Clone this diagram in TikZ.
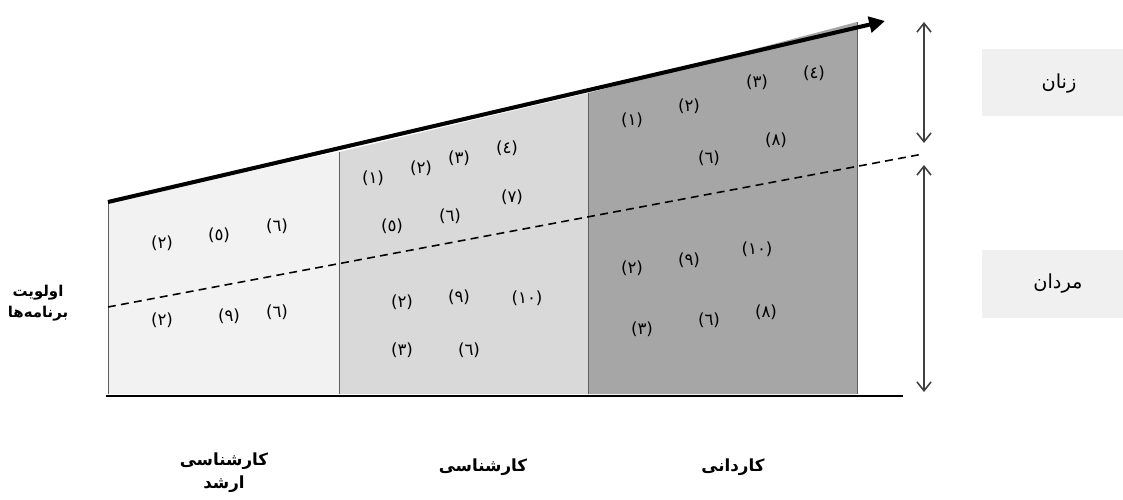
\documentclass[tikz,border=0pt]{standalone}
\usepackage{fontspec}
\setmainfont{DejaVu Sans}
\newfontfamily\arabicfont[Script=Arabic]{DejaVu Sans}
\newfontfamily\numfont{DejaVu Sans}
\TeXXeTstate=1
\usetikzlibrary{arrows.meta}
\definecolor{pA}{HTML}{F2F2F2}
\definecolor{pB}{HTML}{D9D9D9}
\definecolor{pC}{HTML}{A6A6A6}
\definecolor{boxc}{HTML}{F0F0F0}
\definecolor{edgec}{HTML}{606060}
\definecolor{vline}{HTML}{404040}
\tikzset{
  num/.style={font=\numfont\fontsize{9.5}{11}\selectfont, inner sep=0pt, text=black},
  lbl/.style={font=\arabicfont\bfseries\fontsize{9.5}{13}\selectfont, align=center, inner sep=0pt},
  sidelbl/.style={font=\arabicfont\fontsize{11}{13}\selectfont, inner sep=0pt},
  panel/.style={draw=edgec, line width=0.5pt},
  sidebox/.style={fill=boxc, draw=none},
  dimarrow/.style={draw=vline, line width=0.9pt, {Straight Barb[length=5pt,width=8pt]}-{Straight Barb[length=5pt,width=8pt]}},
}
\begin{document}
\begin{tikzpicture}[x=0.02cm,y=-0.02cm]
\useasboundingbox (0,0) rectangle (1123,500);
% panels
\fill[pA] (108,202) -- (339,152) -- (339,394) -- (108,394) -- cycle;
\fill[pB] (339,152) -- (588,93) -- (588,394) -- (339,394) -- cycle;
\fill[pC] (588,93) -- (857,22) -- (857,394) -- (588,394) -- cycle;
\draw[panel] (108,202) -- (108,394);
\draw[panel] (339,152) -- (339,394);
\draw[panel] (588,93) -- (588,394);
\draw[panel] (857,22) -- (857,394);
% dashed boundary
\coordinate (dL) at (108,307);
\coordinate (dR) at (923,154);
\draw[dash pattern=on 4.5pt off 3pt, line width=0.9pt] (dL) -- (dR);
% baseline
\coordinate (bL) at (106,396);
\coordinate (bR) at (903,396);
\draw[line width=1.7pt] (bL) -- (bR);
% top arrow
\coordinate (aS) at (108,202);
\coordinate (aE) at (885,21);
\draw[line width=2.3pt, -{Triangle[length=9pt,width=9pt]}] (aS) -- (aE);
% dimension arrows
\coordinate (t1) at (924,22);
\coordinate (t2) at (924,143);
\coordinate (m1) at (924,165);
\coordinate (m2) at (924,392);
\draw[dimarrow] (t1) -- (t2);
\draw[dimarrow] (m1) -- (m2);
% side boxes
\fill[sidebox] (982,49) rectangle (1123,116);
\fill[sidebox] (982,250) rectangle (1123,318);
\node[sidelbl] (women) at (1059,84) {\beginR زنان\endR};
\node[sidelbl] (men) at (1058,284) {\beginR مردان\endR};
% left label
\node[lbl, font=\arabicfont\bfseries\fontsize{8.5}{12}\selectfont] (prio) at (38,303) {\beginR اولویت\endR\\\beginR برنامه‌ها\endR};
% bottom labels
\node[lbl] (msc) at (224,473) {\beginR کارشناسی\endR\\\beginR ارشد\endR};
\node[lbl] (bsc) at (483,467) {\beginR کارشناسی\endR};
\node[lbl] (asc) at (733,467) {\beginR کاردانی\endR};
% panel 1 numbers
\node[num] (p1a) at (162,243) {(٢)};
\node[num] (p1b) at (219,235) {(٥)};
\node[num] (p1c) at (277,226) {(٦)};
\node[num] (p1d) at (162,320) {(٢)};
\node[num] (p1e) at (229,316) {(٩)};
\node[num] (p1f) at (277,312) {(٦)};
% panel 2 numbers
\node[num] (p2a) at (373,178) {(١)};
\node[num] (p2b) at (421,168) {(٢)};
\node[num] (p2c) at (459,158) {(٣)};
\node[num] (p2d) at (507,148) {(٤)};
\node[num] (p2e) at (512,197) {(٧)};
\node[num] (p2f) at (450,216) {(٦)};
\node[num] (p2g) at (392,226) {(٥)};
\node[num] (p2h) at (402,302) {(٢)};
\node[num] (p2i) at (459,297) {(٩)};
\node[num] (p2j) at (527,298) {(١٠)};
\node[num] (p2k) at (402,350) {(٣)};
\node[num] (p2l) at (469,350) {(٦)};
% panel 3 numbers
\node[num] (p3a) at (632,120) {(١)};
\node[num] (p3b) at (689,106) {(٢)};
\node[num] (p3c) at (757,82) {(٣)};
\node[num] (p3d) at (814,73) {(٤)};
\node[num] (p3e) at (776,140) {(٨)};
\node[num] (p3f) at (709,158) {(٦)};
\node[num] (p3g) at (632,268) {(٢)};
\node[num] (p3h) at (689,260) {(٩)};
\node[num] (p3i) at (757,249) {(١٠)};
\node[num] (p3j) at (642,329) {(٣)};
\node[num] (p3k) at (709,320) {(٦)};
\node[num] (p3l) at (766,312) {(٨)};
\end{tikzpicture}
\end{document}
